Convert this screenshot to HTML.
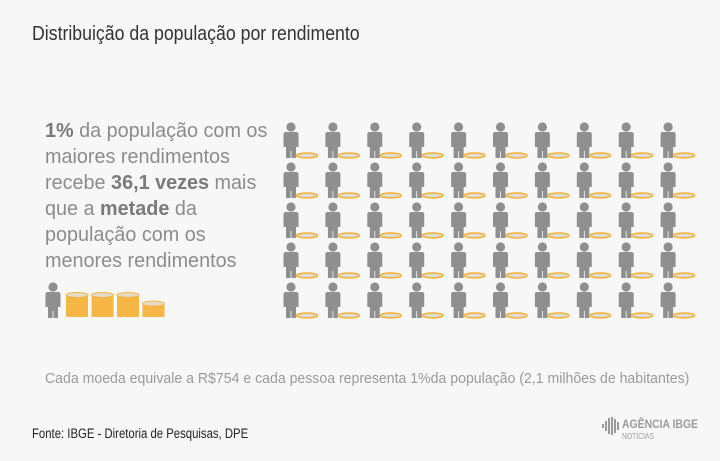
<!DOCTYPE html>
<html><head><meta charset="utf-8">
<style>
html,body{margin:0;padding:0}
body{width:720px;height:461px;background:#f7f7f7;position:relative;overflow:hidden;font-family:"Liberation Sans",sans-serif}
.t{position:absolute;white-space:nowrap;transform-origin:0 0}
#title{left:32px;top:23px;font-size:20px;color:#333;transform:scaleX(0.885)}
#desc{left:45px;top:118px;font-size:20px;line-height:26px;color:#8c8c8c;transform:scaleX(0.99)}
#desc b{color:#7a7a7a}
#note{left:45px;top:370px;font-size:15px;color:#9a9a9a;transform:scaleX(0.94)}
#src{left:32px;top:426px;font-size:13.5px;color:#222;transform:scaleX(0.84)}
#logo{left:600px;top:413px}
</style></head><body>
<div class="t" id="title">Distribuição da população por rendimento</div>
<div class="t" id="desc"><b>1%</b> da população com os<br>maiores rendimentos<br>recebe <b>36,1 vezes</b> mais<br>que a <b>metade</b> da<br>população com os<br>menores rendimentos</div>
<svg id="chart" width="720" height="461" style="position:absolute;left:0;top:0"></svg>
<div class="t" id="note">Cada moeda equivale a R$754 e cada pessoa representa 1%da população (2,1 milhões de habitantes)</div>
<div class="t" id="src">Fonte: IBGE - Diretoria de Pesquisas, DPE</div>
<div class="t" id="logo">
<svg width="110" height="28"><g fill="#9a9a9a">
<rect x="2" y="11" width="2" height="4"/><rect x="5" y="8" width="2" height="10"/><rect x="8" y="5" width="2" height="16"/><rect x="11" y="4" width="2" height="18"/><rect x="14" y="6" width="2" height="14"/><rect x="17" y="9" width="2" height="8"/>
<text x="22" y="15" font-size="12" font-weight="bold" font-family="Liberation Sans,sans-serif" textLength="76" lengthAdjust="spacingAndGlyphs">AGÊNCIA IBGE</text>
<text x="22" y="26" font-size="8" font-family="Liberation Sans,sans-serif" textLength="32" lengthAdjust="spacingAndGlyphs">NOTÍCIAS</text></g></svg></div>
<script>
// data
const rows = 5;
const cols = 10;
const coinsPerPerson = [1,1,1,1,1,1,1,1,1,1,1,1,1,1,1,1,1,1,1,1,1,1,1,1,1,1,1,1,1,1,1,1,1,1,1,1,1,1,1,1,1,1,1,1,1,1,1,1,1,1];
const richCoins = [36.1];
const coinsPerStack = 10;

const NS='http://www.w3.org/2000/svg';
const svg=document.getElementById('chart');
function mk(tag,attrs,parent){const e=document.createElementNS(NS,tag);for(const k in attrs)e.setAttribute(k,attrs[k]);(parent||svg).appendChild(e);return e;}
const xScale=c=>283+c*41.9;
const yScale=r=>122+r*40;
function person(x,y,name){
  const g=mk('g',{fill:'#8f8f8f'});
  
  
  mk('circle',{cx:x+8,cy:y+5,r:4.6},g);
  mk('path',{d:`M${x+0.5} ${y+12} Q${x+0.5} ${y+10} ${x+3} ${y+10} L${x+13} ${y+10} Q${x+15.5} ${y+10} ${x+15.5} ${y+12} L${x+15.5} ${y+25} L${x+13} ${y+25} L${x+13} ${y+36} L${x+3} ${y+36} L${x+3} ${y+25} L${x+0.5} ${y+25} Z`},g);
  mk('rect',{x:x+7.6,y:y+29,width:0.8,height:7,fill:'#f7f7f7'},g);
}
for(let i=0;i<rows*cols;i++){
  const r=Math.floor(i/cols),c=i%cols;
  const x=xScale(c),y=yScale(r);
  person(x,y,'person-'+(i+1));
  const n=coinsPerPerson[i];
  for(let k=0;k<n;k++){
    const e=mk('ellipse',{cx:x+24,cy:y+33.5-k*3,rx:10.5,ry:2.4,fill:'#dcdcdc',stroke:'#f5b43c','stroke-width':1.6});
    
    
  }
}
// rich person with stacks
person(45,282,'rich-person');
let remaining=richCoins[0];let s=0;
while(remaining>0){
  const frac=Math.min(remaining,coinsPerStack)/coinsPerStack;
  const h=22*frac, x=66+s*25.5, bottom=317, w=22;
  const g=mk('g',{});
  
  
  mk('rect',{x:x,y:bottom-h,width:w,height:h,fill:'#f7b94a'},g);
  for(let k=1;k<h/2.4;k++) mk('line',{x1:x,x2:x+w,y1:bottom-k*2.4,y2:bottom-k*2.4,stroke:'#f0a830','stroke-width':0.5},g);
  mk('ellipse',{cx:x+w/2,cy:bottom-h,rx:w/2,ry:2.5,fill:'#e4dccb',stroke:'#f5b43c','stroke-width':1},g);
  remaining-=coinsPerStack;s++;
}
</script>
</body></html>
